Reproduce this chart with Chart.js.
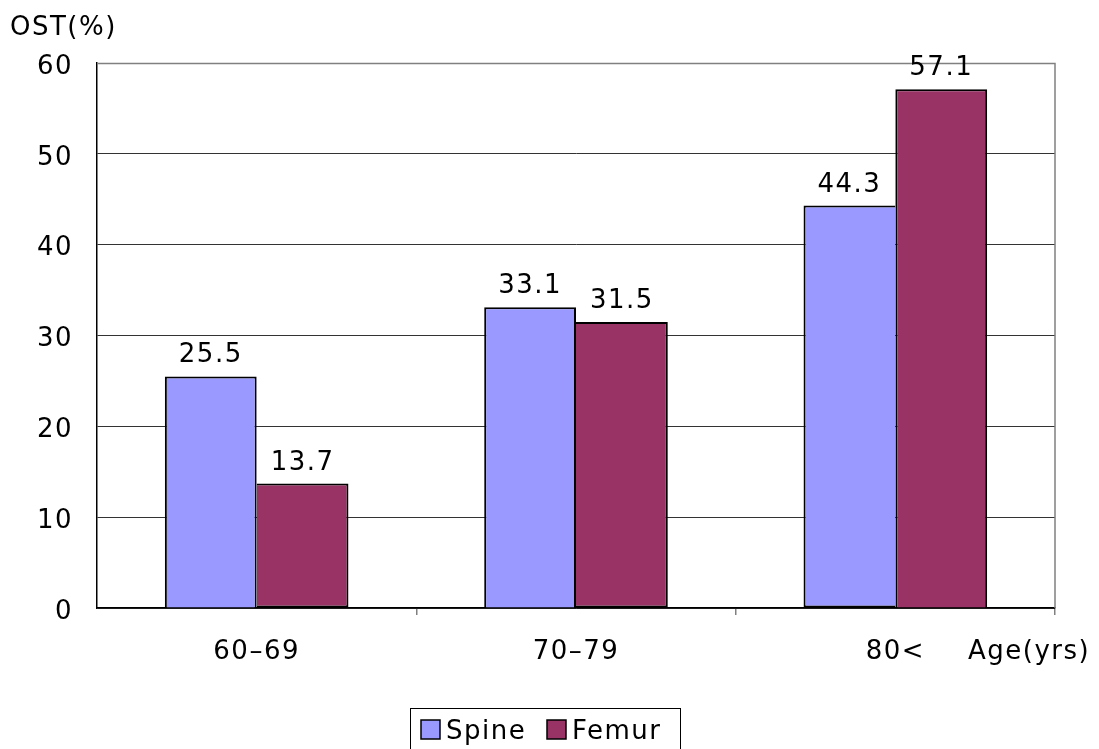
<!DOCTYPE html>
<html lang="en">
  <head>
    <meta charset="UTF-8" />
    <title>OST by age</title>
    <style>
      html, body { margin: 0; padding: 0; background: #fff; }
      #wrap { width: 1099px; height: 749px; position: relative; }
    </style>
  </head>
  <body>
    <div id="wrap">
      <canvas id="ostChart" width="1099" height="749"></canvas>
    </div>

    <script src="https://cdn.jsdelivr.net/npm/chart.js"></script>
    <script>
      const ageGroups = ["60–69", "70–79", "80<"];
      const spine = [25.5, 33.1, 44.3];
      const femur = [13.7, 31.5, 57.1];
      const yTicks = [0, 10, 20, 30, 40, 50, 60];

      const FONT = "'DejaVu Sans', sans-serif";

      // wider letter spacing for every text drawn on the canvas
      const spacing = {
        id: "spacing",
        beforeDraw(chart) {
          chart.ctx.letterSpacing = "1.5px";
        },
      };

      // value labels, axis titles, frame and boxed legend
      const extras = {
        id: "extras",
        beforeDatasetsDraw(chart) {
          const { ctx, chartArea: a } = chart;
          ctx.save();
          ctx.strokeStyle = "#808080";
          ctx.lineWidth = 1.5;
          ctx.beginPath();
          ctx.moveTo(a.left, a.top + 0.5);
          ctx.lineTo(a.right, a.top + 0.5);
          ctx.lineTo(a.right, a.bottom);
          ctx.stroke();
          ctx.restore();
        },
        afterDatasetsDraw(chart) {
          const { ctx } = chart;
          ctx.save();
          ctx.letterSpacing = "1.5px";
          ctx.fillStyle = "#000";
          ctx.font = "26px " + FONT;
          ctx.textAlign = "center";
          ctx.textBaseline = "alphabetic";
          chart.data.datasets.forEach((ds, i) => {
            chart.getDatasetMeta(i).data.forEach((bar, j) => {
              ctx.fillText(ds.data[j].toFixed(1), bar.x, bar.y - 14);
            });
          });

          // axis titles
          ctx.textAlign = "left";
          ctx.fillText("OST(%)", 10, 35);
          ctx.fillText("Age(yrs)", 968, 659);

          // legend box
          ctx.strokeStyle = "#000";
          ctx.lineWidth = 1;
          ctx.strokeRect(410.5, 708.5, 270, 50);
          const items = [
            { x: 421, tx: 446 },
            { x: 547, tx: 572 },
          ];
          chart.data.datasets.forEach((ds, i) => {
            const it = items[i];
            ctx.fillStyle = ds.backgroundColor;
            ctx.fillRect(it.x, 720, 19, 19);
            ctx.lineWidth = 1.5;
            ctx.strokeRect(it.x, 720, 19, 19);
            ctx.fillStyle = "#000";
            ctx.fillText(ds.label, it.tx, 739);
          });
          ctx.restore();
        },
      };

      new Chart(document.getElementById("ostChart"), {
        type: "bar",
        data: {
          labels: ageGroups,
          datasets: [
            {
              label: "Spine",
              data: spine,
              backgroundColor: "#9999FF",
              borderColor: "#000",
              borderWidth: 2,
              // the taller bar of each pair draws the shared edge
              borderSkipped: (c) => (femur[c.dataIndex] > spine[c.dataIndex] ? "right" : "start"),
              categoryPercentage: 0.575,
              barPercentage: 1,
            },
            {
              label: "Femur",
              data: femur,
              backgroundColor: "#993366",
              borderColor: "#000",
              borderWidth: 2,
              borderSkipped: (c) => (femur[c.dataIndex] > spine[c.dataIndex] ? "start" : "left"),
              categoryPercentage: 0.575,
              barPercentage: 1,
            },
          ],
        },
        options: {
          responsive: false,
          animation: false,
          layout: { padding: { left: 0, right: 44, top: 63, bottom: 0 } },
          plugins: {
            legend: { display: false },
            tooltip: { enabled: false },
          },
          scales: {
            x: {
              offset: true,
              afterFit: (s) => { s.height = 141; },
              border: { color: "#000", width: 1.5 },
              grid: {
                drawOnChartArea: false,
                drawTicks: true,
                tickLength: 7,
                offset: true,
                color: (c) => (c.index === 0 || c.index === 3 ? "rgba(0,0,0,0)" : "#808080"),
                lineWidth: 1.5,
              },
              ticks: {
                color: "#000",
                padding: 22,
                font: { size: 26, family: FONT },
              },
            },
            y: {
              min: 0,
              max: 60,
              afterFit: (s) => { s.width = 97; },
              afterBuildTicks: (s) => { s.ticks = yTicks.map((v) => ({ value: v })); },
              border: { color: "#000", width: 1.5 },
              grid: {
                color: "#333",
                lineWidth: 1,
                drawTicks: false,
              },
              ticks: {
                color: "#000",
                padding: 24,
                labelOffset: 4,
                font: { size: 26, family: FONT },
              },
            },
          },
        },
        plugins: [spacing, extras],
      });
    </script>
  </body>
</html>
